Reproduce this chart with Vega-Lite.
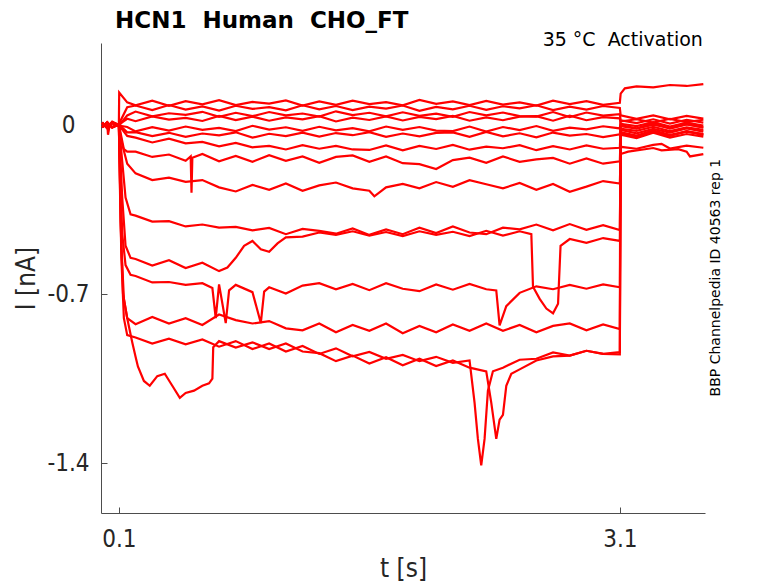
{
  "$schema": "https://vega.github.io/schema/vega-lite/v6.json",
  "width": 604,
  "height": 470,
  "autosize": "none",
  "padding": {"left": 101, "top": 43, "right": 73, "bottom": 70},
  "background": "white",
  "config": {"view": {"stroke": null}, "font": "DejaVu Sans"},
  "title": {
    "text": "HCN1\u00a0\u00a0Human\u00a0\u00a0CHO_FT",
    "frame": "group", "anchor": "start", "dx": 14, "offset": -20, "baseline": "alphabetic",
    "font": "DejaVu Sans", "fontSize": 23, "fontWeight": "bold", "color": "#000000"
  },
  "encoding": {
    "x": {
      "field": "t", "type": "quantitative",
      "scale": {"domain": [-0.007, 3.61], "nice": false, "zero": false},
      "axis": {
        "values": [0.1, 3.1], "format": ".1f", "title": "t [s]", "grid": false,
        "tickSize": -6, "labelPadding": 20, "titlePadding": 4,
        "labelFont": "DejaVu Sans Condensed, DejaVu Sans", "labelFontSize": 24,
        "titleFont": "DejaVu Sans Condensed, DejaVu Sans", "titleFontSize": 26, "titleFontWeight": "normal",
        "domainColor": "#4d4d4d", "tickColor": "#4d4d4d", "labelColor": "#262626", "titleColor": "#262626"
      }
    },
    "y": {
      "field": "i", "type": "quantitative",
      "scale": {"domain": [-1.607, 0.34], "nice": false, "zero": false},
      "axis": {
        "values": [0, -0.7, -1.4], "labelExpr": "'' + datum.value", "title": "I [nA]", "grid": false,
        "tickSize": -6, "labelAlign": "center", "labelPadding": 39, "titlePadding": 7,
        "labelFont": "DejaVu Sans Condensed, DejaVu Sans", "labelFontSize": 24,
        "titleFont": "DejaVu Sans Condensed, DejaVu Sans", "titleFontSize": 26, "titleFontWeight": "normal",
        "domainColor": "#4d4d4d", "tickColor": "#4d4d4d", "labelColor": "#262626", "titleColor": "#262626"
      }
    }
  },
  "layer": [
    {
      "data": {"values": [
        {"k":1,"t":0,"i":0.012},{"k":1,"t":0.03,"i":-0.01},{"k":1,"t":0.06,"i":0.014},{"k":1,"t":0.1,"i":0},{"k":1,"t":0.102,"i":0.135},{"k":1,"t":0.15,"i":0.094},
        {"k":1,"t":0.2,"i":0.082},{"k":1,"t":0.3,"i":0.101},{"k":1,"t":0.4,"i":0.08},{"k":1,"t":0.5,"i":0.099},{"k":1,"t":0.6,"i":0.086},{"k":1,"t":0.7,"i":0.103},{"k":1,"t":0.8,"i":0.083},{"k":1,"t":0.9,"i":0.096},{"k":1,"t":1.0,"i":0.089},{"k":1,"t":1.1,"i":0.102},
        {"k":1,"t":1.2,"i":0.081},{"k":1,"t":1.3,"i":0.098},{"k":1,"t":1.4,"i":0.084},{"k":1,"t":1.5,"i":0.101},{"k":1,"t":1.6,"i":0.087},{"k":1,"t":1.7,"i":0.095},{"k":1,"t":1.8,"i":0.082},{"k":1,"t":1.9,"i":0.104},{"k":1,"t":2.0,"i":0.088},{"k":1,"t":2.1,"i":0.098},
        {"k":1,"t":2.2,"i":0.083},{"k":1,"t":2.3,"i":0.1},{"k":1,"t":2.4,"i":0.085},{"k":1,"t":2.5,"i":0.094},{"k":1,"t":2.6,"i":0.081},{"k":1,"t":2.7,"i":0.101},{"k":1,"t":2.8,"i":0.087},{"k":1,"t":2.9,"i":0.099},{"k":1,"t":3.0,"i":0.084},{"k":1,"t":3.1,"i":0.092},
        {"k":1,"t":3.105,"i":0.13},{"k":1,"t":3.13,"i":0.152},{"k":1,"t":3.2,"i":0.16},{"k":1,"t":3.3,"i":0.156},{"k":1,"t":3.4,"i":0.166},{"k":1,"t":3.5,"i":0.162},{"k":1,"t":3.6,"i":0.17},

        {"k":2,"t":0,"i":-0.01},{"k":2,"t":0.03,"i":0.012},{"k":2,"t":0.06,"i":-0.009},{"k":2,"t":0.1,"i":0.004},{"k":2,"t":0.15,"i":0.074},
        {"k":2,"t":0.2,"i":0.081},{"k":2,"t":0.3,"i":0.062},{"k":2,"t":0.4,"i":0.083},{"k":2,"t":0.5,"i":0.064},{"k":2,"t":0.6,"i":0.077},{"k":2,"t":0.7,"i":0.06},{"k":2,"t":0.8,"i":0.08},{"k":2,"t":0.9,"i":0.067},{"k":2,"t":1.0,"i":0.074},{"k":2,"t":1.1,"i":0.061},
        {"k":2,"t":1.2,"i":0.082},{"k":2,"t":1.3,"i":0.065},{"k":2,"t":1.4,"i":0.079},{"k":2,"t":1.5,"i":0.062},{"k":2,"t":1.6,"i":0.076},{"k":2,"t":1.7,"i":0.068},{"k":2,"t":1.8,"i":0.081},{"k":2,"t":1.9,"i":0.059},{"k":2,"t":2.0,"i":0.075},{"k":2,"t":2.1,"i":0.065},
        {"k":2,"t":2.2,"i":0.08},{"k":2,"t":2.3,"i":0.063},{"k":2,"t":2.4,"i":0.078},{"k":2,"t":2.5,"i":0.069},{"k":2,"t":2.6,"i":0.082},{"k":2,"t":2.7,"i":0.062},{"k":2,"t":2.8,"i":0.076},{"k":2,"t":2.9,"i":0.064},{"k":2,"t":3.0,"i":0.079},{"k":2,"t":3.1,"i":0.071},
        {"k":2,"t":3.105,"i":0.04},{"k":2,"t":3.2,"i":0.026},{"k":2,"t":3.3,"i":0.04},{"k":2,"t":3.4,"i":0.024},{"k":2,"t":3.5,"i":0.038},{"k":2,"t":3.6,"i":0.027},

        {"k":3,"t":0,"i":0.008},{"k":3,"t":0.03,"i":-0.014},{"k":3,"t":0.06,"i":0.01},{"k":3,"t":0.1,"i":-0.003},{"k":3,"t":0.15,"i":0.04},
        {"k":3,"t":0.2,"i":0.056},{"k":3,"t":0.3,"i":0.036},{"k":3,"t":0.4,"i":0.049},{"k":3,"t":0.5,"i":0.042},{"k":3,"t":0.6,"i":0.055},{"k":3,"t":0.7,"i":0.034},{"k":3,"t":0.8,"i":0.051},{"k":3,"t":0.9,"i":0.037},{"k":3,"t":1.0,"i":0.054},{"k":3,"t":1.1,"i":0.04},
        {"k":3,"t":1.2,"i":0.048},{"k":3,"t":1.3,"i":0.035},{"k":3,"t":1.4,"i":0.057},{"k":3,"t":1.5,"i":0.041},{"k":3,"t":1.6,"i":0.051},{"k":3,"t":1.7,"i":0.036},{"k":3,"t":1.8,"i":0.053},{"k":3,"t":1.9,"i":0.038},{"k":3,"t":2.0,"i":0.047},{"k":3,"t":2.1,"i":0.034},
        {"k":3,"t":2.2,"i":0.054},{"k":3,"t":2.3,"i":0.04},{"k":3,"t":2.4,"i":0.052},{"k":3,"t":2.5,"i":0.037},{"k":3,"t":2.6,"i":0.035},{"k":3,"t":2.7,"i":0.054},{"k":3,"t":2.8,"i":0.033},{"k":3,"t":2.9,"i":0.052},{"k":3,"t":3.0,"i":0.039},{"k":3,"t":3.1,"i":0.045},
        {"k":3,"t":3.105,"i":0.02},{"k":3,"t":3.2,"i":0.008},{"k":3,"t":3.3,"i":0.024},{"k":3,"t":3.4,"i":0.006},{"k":3,"t":3.5,"i":0.022},{"k":3,"t":3.6,"i":0.01},

        {"k":4,"t":0,"i":-0.008},{"k":4,"t":0.03,"i":0.009},{"k":4,"t":0.035,"i":-0.04},{"k":4,"t":0.045,"i":0},{"k":4,"t":0.06,"i":0.01},{"k":4,"t":0.1,"i":0.002},{"k":4,"t":0.15,"i":0.026},
        {"k":4,"t":0.2,"i":0.016},{"k":4,"t":0.3,"i":0.036},{"k":4,"t":0.4,"i":0.023},{"k":4,"t":0.5,"i":0.03},{"k":4,"t":0.6,"i":0.017},{"k":4,"t":0.7,"i":0.038},{"k":4,"t":0.8,"i":0.021},{"k":4,"t":0.9,"i":0.035},{"k":4,"t":1.0,"i":0.018},{"k":4,"t":1.1,"i":0.032},
        {"k":4,"t":1.2,"i":0.024},{"k":4,"t":1.3,"i":0.037},{"k":4,"t":1.4,"i":0.015},{"k":4,"t":1.5,"i":0.031},{"k":4,"t":1.6,"i":0.021},{"k":4,"t":1.7,"i":0.036},{"k":4,"t":1.8,"i":0.019},{"k":4,"t":1.9,"i":0.034},{"k":4,"t":2.0,"i":0.025},{"k":4,"t":2.1,"i":0.038},
        {"k":4,"t":2.2,"i":0.018},{"k":4,"t":2.3,"i":0.032},{"k":4,"t":2.4,"i":0.02},{"k":4,"t":2.5,"i":0.035},{"k":4,"t":2.6,"i":0.037},{"k":4,"t":2.7,"i":0.018},{"k":4,"t":2.8,"i":0.039},{"k":4,"t":2.9,"i":0.02},{"k":4,"t":3.0,"i":0.033},{"k":4,"t":3.1,"i":0.028},
        {"k":4,"t":3.105,"i":0.005},{"k":4,"t":3.2,"i":-0.004},{"k":4,"t":3.3,"i":0.012},{"k":4,"t":3.4,"i":-0.006},{"k":4,"t":3.5,"i":0.01},{"k":4,"t":3.6,"i":-0.002},

        {"k":5,"t":0,"i":0.01},{"k":5,"t":0.03,"i":-0.012},{"k":5,"t":0.06,"i":0.011},{"k":5,"t":0.1,"i":-0.002},{"k":5,"t":0.15,"i":-0.008},
        {"k":5,"t":0.2,"i":-0.026},{"k":5,"t":0.3,"i":-0.009},{"k":5,"t":0.4,"i":-0.023},{"k":5,"t":0.5,"i":-0.006},{"k":5,"t":0.6,"i":-0.02},{"k":5,"t":0.7,"i":-0.012},{"k":5,"t":0.8,"i":-0.025},{"k":5,"t":0.9,"i":-0.003},{"k":5,"t":1.0,"i":-0.019},{"k":5,"t":1.1,"i":-0.009},
        {"k":5,"t":1.2,"i":-0.024},{"k":5,"t":1.3,"i":-0.007},{"k":5,"t":1.4,"i":-0.022},{"k":5,"t":1.5,"i":-0.013},{"k":5,"t":1.6,"i":-0.026},{"k":5,"t":1.7,"i":-0.006},{"k":5,"t":1.8,"i":-0.02},{"k":5,"t":1.9,"i":-0.008},{"k":5,"t":2.0,"i":-0.023},{"k":5,"t":2.1,"i":-0.025},
        {"k":5,"t":2.2,"i":-0.006},{"k":5,"t":2.3,"i":-0.027},{"k":5,"t":2.4,"i":-0.008},{"k":5,"t":2.5,"i":-0.021},{"k":5,"t":2.6,"i":-0.004},{"k":5,"t":2.7,"i":-0.024},{"k":5,"t":2.8,"i":-0.011},{"k":5,"t":2.9,"i":-0.018},{"k":5,"t":3.0,"i":-0.005},{"k":5,"t":3.1,"i":-0.014},
        {"k":5,"t":3.105,"i":0.015},{"k":5,"t":3.2,"i":0.024},{"k":5,"t":3.3,"i":0.01},{"k":5,"t":3.4,"i":0.026},{"k":5,"t":3.5,"i":0.012},{"k":5,"t":3.6,"i":0.022},

        {"k":6,"t":0,"i":-0.009},{"k":6,"t":0.03,"i":0.011},{"k":6,"t":0.06,"i":-0.01},{"k":6,"t":0.1,"i":0.003},{"k":6,"t":0.15,"i":-0.03},
        {"k":6,"t":0.2,"i":-0.029},{"k":6,"t":0.3,"i":-0.046},{"k":6,"t":0.4,"i":-0.032},{"k":6,"t":0.5,"i":-0.049},{"k":6,"t":0.6,"i":-0.035},{"k":6,"t":0.7,"i":-0.043},{"k":6,"t":0.8,"i":-0.03},{"k":6,"t":0.9,"i":-0.052},{"k":6,"t":1.0,"i":-0.036},{"k":6,"t":1.1,"i":-0.046},
        {"k":6,"t":1.2,"i":-0.031},{"k":6,"t":1.3,"i":-0.048},{"k":6,"t":1.4,"i":-0.033},{"k":6,"t":1.5,"i":-0.042},{"k":6,"t":1.6,"i":-0.029},{"k":6,"t":1.7,"i":-0.049},{"k":6,"t":1.8,"i":-0.035},{"k":6,"t":1.9,"i":-0.047},{"k":6,"t":2.0,"i":-0.032},{"k":6,"t":2.1,"i":-0.03},
        {"k":6,"t":2.2,"i":-0.049},{"k":6,"t":2.3,"i":-0.028},{"k":6,"t":2.4,"i":-0.047},{"k":6,"t":2.5,"i":-0.034},{"k":6,"t":2.6,"i":-0.051},{"k":6,"t":2.7,"i":-0.031},{"k":6,"t":2.8,"i":-0.044},{"k":6,"t":2.9,"i":-0.037},{"k":6,"t":3.0,"i":-0.05},{"k":6,"t":3.1,"i":-0.038},
        {"k":6,"t":3.105,"i":-0.005},{"k":6,"t":3.2,"i":-0.015},{"k":6,"t":3.3,"i":0.002},{"k":6,"t":3.4,"i":-0.013},{"k":6,"t":3.5,"i":0.004},{"k":6,"t":3.6,"i":-0.01},

        {"k":7,"t":0,"i":0.006},{"k":7,"t":0.03,"i":-0.011},{"k":7,"t":0.06,"i":0.009},{"k":7,"t":0.1,"i":0},{"k":7,"t":0.15,"i":-0.045},
        {"k":7,"t":0.2,"i":-0.052},{"k":7,"t":0.3,"i":-0.072},{"k":7,"t":0.4,"i":-0.056},{"k":7,"t":0.5,"i":-0.076},{"k":7,"t":0.6,"i":-0.07},{"k":7,"t":0.7,"i":-0.088},{"k":7,"t":0.8,"i":-0.074},{"k":7,"t":0.9,"i":-0.092},{"k":7,"t":1.0,"i":-0.086},{"k":7,"t":1.1,"i":-0.101},
        {"k":7,"t":1.2,"i":-0.083},{"k":7,"t":1.3,"i":-0.098},{"k":7,"t":1.4,"i":-0.086},{"k":7,"t":1.5,"i":-0.101},{"k":7,"t":1.6,"i":-0.103},{"k":7,"t":1.7,"i":-0.084},{"k":7,"t":1.8,"i":-0.105},{"k":7,"t":1.9,"i":-0.086},{"k":7,"t":2.0,"i":-0.099},{"k":7,"t":2.1,"i":-0.082},
        {"k":7,"t":2.2,"i":-0.102},{"k":7,"t":2.3,"i":-0.089},{"k":7,"t":2.4,"i":-0.096},{"k":7,"t":2.5,"i":-0.083},{"k":7,"t":2.6,"i":-0.104},{"k":7,"t":2.7,"i":-0.087},{"k":7,"t":2.8,"i":-0.101},{"k":7,"t":2.9,"i":-0.084},{"k":7,"t":3.0,"i":-0.098},{"k":7,"t":3.1,"i":-0.094},
        {"k":7,"t":3.105,"i":-0.02},{"k":7,"t":3.2,"i":-0.034},{"k":7,"t":3.3,"i":-0.016},{"k":7,"t":3.4,"i":-0.031},{"k":7,"t":3.5,"i":-0.014},{"k":7,"t":3.6,"i":-0.027},

        {"k":8,"t":0,"i":-0.01},{"k":8,"t":0.03,"i":0.008},{"k":8,"t":0.06,"i":-0.008},{"k":8,"t":0.1,"i":0.002},{"k":8,"t":0.13,"i":-0.1},{"k":8,"t":0.15,"i":-0.11},
        {"k":8,"t":0.2,"i":-0.11},{"k":8,"t":0.3,"i":-0.132},{"k":8,"t":0.4,"i":-0.122},{"k":8,"t":0.5,"i":-0.148},{"k":8,"t":0.53,"i":-0.13},{"k":8,"t":0.535,"i":-0.28},{"k":8,"t":0.54,"i":-0.135},{"k":8,"t":0.6,"i":-0.12},{"k":8,"t":0.7,"i":-0.15},{"k":8,"t":0.8,"i":-0.128},{"k":8,"t":0.9,"i":-0.152},{"k":8,"t":1.0,"i":-0.125},{"k":8,"t":1.1,"i":-0.148},
        {"k":8,"t":1.2,"i":-0.13},{"k":8,"t":1.3,"i":-0.156},{"k":8,"t":1.4,"i":-0.132},{"k":8,"t":1.5,"i":-0.126},{"k":8,"t":1.6,"i":-0.152},{"k":8,"t":1.7,"i":-0.13},{"k":8,"t":1.8,"i":-0.158},{"k":8,"t":1.9,"i":-0.162},{"k":8,"t":2.0,"i":-0.182},{"k":8,"t":2.1,"i":-0.145},
        {"k":8,"t":2.2,"i":-0.135},{"k":8,"t":2.3,"i":-0.156},{"k":8,"t":2.4,"i":-0.13},{"k":8,"t":2.5,"i":-0.152},{"k":8,"t":2.6,"i":-0.142},{"k":8,"t":2.7,"i":-0.136},{"k":8,"t":2.8,"i":-0.16},{"k":8,"t":2.9,"i":-0.138},{"k":8,"t":3.0,"i":-0.16},{"k":8,"t":3.1,"i":-0.15},
        {"k":8,"t":3.105,"i":-0.035},{"k":8,"t":3.2,"i":-0.048},{"k":8,"t":3.3,"i":-0.028},{"k":8,"t":3.4,"i":-0.045},{"k":8,"t":3.5,"i":-0.026},{"k":8,"t":3.6,"i":-0.042},

        {"k":9,"t":0,"i":0.009},{"k":9,"t":0.03,"i":-0.01},{"k":9,"t":0.06,"i":0.008},{"k":9,"t":0.1,"i":-0.002},{"k":9,"t":0.12,"i":-0.08},{"k":9,"t":0.15,"i":-0.16},
        {"k":9,"t":0.2,"i":-0.2},{"k":9,"t":0.3,"i":-0.228},{"k":9,"t":0.4,"i":-0.218},{"k":9,"t":0.5,"i":-0.235},{"k":9,"t":0.6,"i":-0.228},{"k":9,"t":0.7,"i":-0.258},{"k":9,"t":0.8,"i":-0.275},{"k":9,"t":0.9,"i":-0.248},{"k":9,"t":1.0,"i":-0.268},{"k":9,"t":1.1,"i":-0.242},
        {"k":9,"t":1.2,"i":-0.272},{"k":9,"t":1.3,"i":-0.25},{"k":9,"t":1.4,"i":-0.238},{"k":9,"t":1.5,"i":-0.262},{"k":9,"t":1.6,"i":-0.272},{"k":9,"t":1.63,"i":-0.295},{"k":9,"t":1.7,"i":-0.258},{"k":9,"t":1.8,"i":-0.244},{"k":9,"t":1.9,"i":-0.262},{"k":9,"t":2.0,"i":-0.236},{"k":9,"t":2.1,"i":-0.256},
        {"k":9,"t":2.2,"i":-0.228},{"k":9,"t":2.3,"i":-0.245},{"k":9,"t":2.4,"i":-0.262},{"k":9,"t":2.5,"i":-0.24},{"k":9,"t":2.6,"i":-0.268},{"k":9,"t":2.7,"i":-0.244},{"k":9,"t":2.8,"i":-0.276},{"k":9,"t":2.9,"i":-0.255},{"k":9,"t":3.0,"i":-0.232},{"k":9,"t":3.1,"i":-0.242},
        {"k":9,"t":3.105,"i":-0.12},{"k":9,"t":3.15,"i":-0.11},{"k":9,"t":3.25,"i":-0.1},{"k":9,"t":3.3,"i":-0.095},{"k":9,"t":3.35,"i":-0.105},{"k":9,"t":3.45,"i":-0.1},{"k":9,"t":3.5,"i":-0.11},{"k":9,"t":3.52,"i":-0.13},{"k":9,"t":3.6,"i":-0.12},

        {"k":10,"t":0,"i":-0.008},{"k":10,"t":0.03,"i":0.01},{"k":10,"t":0.06,"i":-0.009},{"k":10,"t":0.1,"i":0.003},{"k":10,"t":0.12,"i":-0.15},{"k":10,"t":0.14,"i":-0.3},{"k":10,"t":0.17,"i":-0.37},
        {"k":10,"t":0.2,"i":-0.375},{"k":10,"t":0.3,"i":-0.4},{"k":10,"t":0.4,"i":-0.398},{"k":10,"t":0.5,"i":-0.42},{"k":10,"t":0.6,"i":-0.412},{"k":10,"t":0.7,"i":-0.425},{"k":10,"t":0.8,"i":-0.422},{"k":10,"t":0.9,"i":-0.436},{"k":10,"t":1.0,"i":-0.426},{"k":10,"t":1.1,"i":-0.452},
        {"k":10,"t":1.2,"i":-0.43},{"k":10,"t":1.3,"i":-0.438},{"k":10,"t":1.4,"i":-0.45},{"k":10,"t":1.5,"i":-0.428},{"k":10,"t":1.6,"i":-0.455},{"k":10,"t":1.7,"i":-0.432},{"k":10,"t":1.8,"i":-0.452},{"k":10,"t":1.9,"i":-0.425},{"k":10,"t":2.0,"i":-0.447},{"k":10,"t":2.1,"i":-0.42},
        {"k":10,"t":2.2,"i":-0.445},{"k":10,"t":2.3,"i":-0.452},{"k":10,"t":2.4,"i":-0.425},{"k":10,"t":2.5,"i":-0.432},{"k":10,"t":2.6,"i":-0.412},{"k":10,"t":2.7,"i":-0.436},{"k":10,"t":2.8,"i":-0.41},{"k":10,"t":2.9,"i":-0.434},{"k":10,"t":3.0,"i":-0.415},{"k":10,"t":3.1,"i":-0.435},
        {"k":10,"t":3.105,"i":-0.09},{"k":10,"t":3.2,"i":-0.098},{"k":10,"t":3.3,"i":-0.082},{"k":10,"t":3.35,"i":-0.078},{"k":10,"t":3.4,"i":-0.097},{"k":10,"t":3.5,"i":-0.085},{"k":10,"t":3.6,"i":-0.094},

        {"k":11,"t":0,"i":0.01},{"k":11,"t":0.03,"i":-0.009},{"k":11,"t":0.06,"i":0.01},{"k":11,"t":0.1,"i":0},{"k":11,"t":0.12,"i":-0.3},{"k":11,"t":0.14,"i":-0.5},{"k":11,"t":0.17,"i":-0.55},
        {"k":11,"t":0.2,"i":-0.555},{"k":11,"t":0.3,"i":-0.582},{"k":11,"t":0.4,"i":-0.56},{"k":11,"t":0.5,"i":-0.592},{"k":11,"t":0.6,"i":-0.57},{"k":11,"t":0.7,"i":-0.605},{"k":11,"t":0.75,"i":-0.59},{"k":11,"t":0.8,"i":-0.55},{"k":11,"t":0.85,"i":-0.5},{"k":11,"t":0.9,"i":-0.48},{"k":11,"t":0.95,"i":-0.515},{"k":11,"t":1.0,"i":-0.525},{"k":11,"t":1.05,"i":-0.49},{"k":11,"t":1.1,"i":-0.465},
        {"k":11,"t":1.2,"i":-0.462},{"k":11,"t":1.3,"i":-0.445},{"k":11,"t":1.4,"i":-0.455},{"k":11,"t":1.5,"i":-0.44},{"k":11,"t":1.6,"i":-0.458},{"k":11,"t":1.7,"i":-0.443},{"k":11,"t":1.8,"i":-0.46},{"k":11,"t":1.9,"i":-0.44},{"k":11,"t":2.0,"i":-0.455},{"k":11,"t":2.1,"i":-0.442},
        {"k":11,"t":2.2,"i":-0.46},{"k":11,"t":2.3,"i":-0.438},{"k":11,"t":2.4,"i":-0.458},{"k":11,"t":2.5,"i":-0.44},{"k":11,"t":2.57,"i":-0.452},{"k":11,"t":2.58,"i":-0.67},{"k":11,"t":2.62,"i":-0.72},{"k":11,"t":2.66,"i":-0.76},{"k":11,"t":2.7,"i":-0.78},{"k":11,"t":2.73,"i":-0.74},{"k":11,"t":2.745,"i":-0.5},{"k":11,"t":2.8,"i":-0.472},{"k":11,"t":2.9,"i":-0.488},{"k":11,"t":3.0,"i":-0.468},{"k":11,"t":3.1,"i":-0.48},
        {"k":11,"t":3.105,"i":-0.03},{"k":11,"t":3.2,"i":-0.043},{"k":11,"t":3.3,"i":-0.022},{"k":11,"t":3.4,"i":-0.04},{"k":11,"t":3.5,"i":-0.027},{"k":11,"t":3.6,"i":-0.037},

        {"k":12,"t":0,"i":-0.009},{"k":12,"t":0.03,"i":0.008},{"k":12,"t":0.06,"i":-0.011},{"k":12,"t":0.1,"i":0.002},{"k":12,"t":0.12,"i":-0.45},{"k":12,"t":0.14,"i":-0.58},{"k":12,"t":0.17,"i":-0.62},
        {"k":12,"t":0.2,"i":-0.625},{"k":12,"t":0.3,"i":-0.652},{"k":12,"t":0.4,"i":-0.65},{"k":12,"t":0.5,"i":-0.662},{"k":12,"t":0.6,"i":-0.655},{"k":12,"t":0.66,"i":-0.675},{"k":12,"t":0.68,"i":-0.8},{"k":12,"t":0.7,"i":-0.66},{"k":12,"t":0.74,"i":-0.82},{"k":12,"t":0.76,"i":-0.685},{"k":12,"t":0.8,"i":-0.662},{"k":12,"t":0.9,"i":-0.692},{"k":12,"t":0.95,"i":-0.82},{"k":12,"t":0.97,"i":-0.69},{"k":12,"t":1.0,"i":-0.672},{"k":12,"t":1.1,"i":-0.698},
        {"k":12,"t":1.2,"i":-0.665},{"k":12,"t":1.3,"i":-0.655},{"k":12,"t":1.4,"i":-0.68},{"k":12,"t":1.5,"i":-0.658},{"k":12,"t":1.6,"i":-0.684},{"k":12,"t":1.7,"i":-0.655},{"k":12,"t":1.8,"i":-0.678},{"k":12,"t":1.9,"i":-0.688},{"k":12,"t":2.0,"i":-0.66},{"k":12,"t":2.1,"i":-0.682},
        {"k":12,"t":2.2,"i":-0.658},{"k":12,"t":2.3,"i":-0.68},{"k":12,"t":2.36,"i":-0.685},{"k":12,"t":2.38,"i":-0.83},{"k":12,"t":2.42,"i":-0.75},{"k":12,"t":2.5,"i":-0.695},{"k":12,"t":2.6,"i":-0.668},{"k":12,"t":2.7,"i":-0.68},{"k":12,"t":2.8,"i":-0.662},{"k":12,"t":2.9,"i":-0.678},{"k":12,"t":3.0,"i":-0.66},{"k":12,"t":3.1,"i":-0.672},
        {"k":12,"t":3.105,"i":0},{"k":12,"t":3.2,"i":-0.013},{"k":12,"t":3.3,"i":0.008},{"k":12,"t":3.4,"i":-0.015},{"k":12,"t":3.5,"i":0.003},{"k":12,"t":3.6,"i":-0.01},

        {"k":13,"t":0,"i":0.007},{"k":13,"t":0.03,"i":-0.01},{"k":13,"t":0.06,"i":0.012},{"k":13,"t":0.1,"i":-0.002},{"k":13,"t":0.115,"i":-0.5},{"k":13,"t":0.13,"i":-0.72},{"k":13,"t":0.15,"i":-0.8},
        {"k":13,"t":0.2,"i":-0.825},{"k":13,"t":0.3,"i":-0.795},{"k":13,"t":0.4,"i":-0.822},{"k":13,"t":0.5,"i":-0.8},{"k":13,"t":0.6,"i":-0.828},{"k":13,"t":0.7,"i":-0.785},{"k":13,"t":0.8,"i":-0.808},{"k":13,"t":0.9,"i":-0.822},{"k":13,"t":1.0,"i":-0.812},{"k":13,"t":1.1,"i":-0.842},
        {"k":13,"t":1.2,"i":-0.85},{"k":13,"t":1.3,"i":-0.822},{"k":13,"t":1.4,"i":-0.858},{"k":13,"t":1.5,"i":-0.828},{"k":13,"t":1.6,"i":-0.852},{"k":13,"t":1.7,"i":-0.822},{"k":13,"t":1.8,"i":-0.862},{"k":13,"t":1.9,"i":-0.832},{"k":13,"t":2.0,"i":-0.858},{"k":13,"t":2.1,"i":-0.826},
        {"k":13,"t":2.2,"i":-0.852},{"k":13,"t":2.3,"i":-0.822},{"k":13,"t":2.4,"i":-0.852},{"k":13,"t":2.5,"i":-0.828},{"k":13,"t":2.6,"i":-0.858},{"k":13,"t":2.7,"i":-0.832},{"k":13,"t":2.8,"i":-0.822},{"k":13,"t":2.9,"i":-0.85},{"k":13,"t":3.0,"i":-0.826},{"k":13,"t":3.1,"i":-0.845},
        {"k":13,"t":3.105,"i":-0.015},{"k":13,"t":3.2,"i":-0.024},{"k":13,"t":3.3,"i":-0.007},{"k":13,"t":3.4,"i":-0.025},{"k":13,"t":3.5,"i":-0.009},{"k":13,"t":3.6,"i":-0.02},

        {"k":14,"t":0,"i":-0.008},{"k":14,"t":0.03,"i":0.01},{"k":14,"t":0.06,"i":-0.009},{"k":14,"t":0.1,"i":0.001},{"k":14,"t":0.115,"i":-0.55},{"k":14,"t":0.13,"i":-0.8},{"k":14,"t":0.15,"i":-0.87},
        {"k":14,"t":0.2,"i":-0.88},{"k":14,"t":0.3,"i":-0.905},{"k":14,"t":0.4,"i":-0.885},{"k":14,"t":0.5,"i":-0.908},{"k":14,"t":0.6,"i":-0.888},{"k":14,"t":0.7,"i":-0.918},{"k":14,"t":0.8,"i":-0.895},{"k":14,"t":0.9,"i":-0.928},{"k":14,"t":1.0,"i":-0.905},{"k":14,"t":1.1,"i":-0.938},
        {"k":14,"t":1.2,"i":-0.915},{"k":14,"t":1.3,"i":-0.948},{"k":14,"t":1.4,"i":-0.925},{"k":14,"t":1.5,"i":-0.958},{"k":14,"t":1.6,"i":-0.94},{"k":14,"t":1.7,"i":-0.968},{"k":14,"t":1.8,"i":-0.952},{"k":14,"t":1.9,"i":-0.978},{"k":14,"t":2.0,"i":-0.96},{"k":14,"t":2.1,"i":-0.985},
        {"k":14,"t":2.2,"i":-0.975},{"k":14,"t":2.23,"i":-1.15},{"k":14,"t":2.25,"i":-1.3},{"k":14,"t":2.27,"i":-1.41},{"k":14,"t":2.29,"i":-1.3},{"k":14,"t":2.31,"i":-1.1},{"k":14,"t":2.34,"i":-1.02},{"k":14,"t":2.4,"i":-1.005},{"k":14,"t":2.5,"i":-0.972},{"k":14,"t":2.6,"i":-0.968},{"k":14,"t":2.7,"i":-0.942},{"k":14,"t":2.8,"i":-0.955},{"k":14,"t":2.9,"i":-0.935},{"k":14,"t":3.0,"i":-0.948},{"k":14,"t":3.1,"i":-0.94},
        {"k":14,"t":3.105,"i":-0.04},{"k":14,"t":3.2,"i":-0.054},{"k":14,"t":3.3,"i":-0.032},{"k":14,"t":3.4,"i":-0.052},{"k":14,"t":3.5,"i":-0.037},{"k":14,"t":3.6,"i":-0.048},

        {"k":15,"t":0,"i":0.009},{"k":15,"t":0.03,"i":-0.01},{"k":15,"t":0.06,"i":0.008},{"k":15,"t":0.1,"i":-0.001},{"k":15,"t":0.11,"i":-0.4},{"k":15,"t":0.125,"i":-0.7},{"k":15,"t":0.15,"i":-0.8},{"k":15,"t":0.18,"i":-0.9},
        {"k":15,"t":0.2,"i":-0.96},{"k":15,"t":0.214,"i":-1.0},{"k":15,"t":0.25,"i":-1.06},{"k":15,"t":0.285,"i":-1.08},{"k":15,"t":0.33,"i":-1.04},{"k":15,"t":0.375,"i":-1.03},{"k":15,"t":0.42,"i":-1.08},{"k":15,"t":0.465,"i":-1.13},{"k":15,"t":0.5,"i":-1.11},{"k":15,"t":0.55,"i":-1.1},{"k":15,"t":0.6,"i":-1.08},{"k":15,"t":0.64,"i":-1.07},{"k":15,"t":0.66,"i":-1.05},{"k":15,"t":0.665,"i":-0.92},
        {"k":15,"t":0.7,"i":-0.895},{"k":15,"t":0.8,"i":-0.922},{"k":15,"t":0.9,"i":-0.9},{"k":15,"t":1.0,"i":-0.928},{"k":15,"t":1.1,"i":-0.905},{"k":15,"t":1.2,"i":-0.938},{"k":15,"t":1.3,"i":-0.945},{"k":15,"t":1.4,"i":-0.978},{"k":15,"t":1.5,"i":-0.955},{"k":15,"t":1.6,"i":-0.988},{"k":15,"t":1.7,"i":-0.962},{"k":15,"t":1.8,"i":-0.995},{"k":15,"t":1.9,"i":-0.968},{"k":15,"t":2.0,"i":-0.998},{"k":15,"t":2.1,"i":-0.975},
        {"k":15,"t":2.2,"i":-1.005},{"k":15,"t":2.3,"i":-1.02},{"k":15,"t":2.33,"i":-1.15},{"k":15,"t":2.36,"i":-1.3},{"k":15,"t":2.38,"i":-1.22},{"k":15,"t":2.4,"i":-1.2},{"k":15,"t":2.42,"i":-1.08},{"k":15,"t":2.45,"i":-1.03},{"k":15,"t":2.5,"i":-1.012},{"k":15,"t":2.6,"i":-0.975},{"k":15,"t":2.7,"i":-0.958},{"k":15,"t":2.8,"i":-0.955},{"k":15,"t":2.9,"i":-0.935},{"k":15,"t":3.0,"i":-0.948},{"k":15,"t":3.1,"i":-0.95},
        {"k":15,"t":3.105,"i":-0.03},{"k":15,"t":3.2,"i":-0.048},{"k":15,"t":3.3,"i":-0.027},{"k":15,"t":3.4,"i":-0.044},{"k":15,"t":3.5,"i":-0.025},{"k":15,"t":3.6,"i":-0.038}
      ]},
      "mark": {"type": "line", "color": "#ff0000", "strokeWidth": 2.2, "clip": true},
      "encoding": {"detail": {"field": "k", "type": "nominal"}}
    },
    {
      "data": {"values": [{"t": 3.597, "i": 0.352, "s": "35 °C\u00a0\u00a0Activation"}]},
      "mark": {"type": "text", "align": "right", "baseline": "middle", "font": "DejaVu Sans", "fontSize": 19, "color": "#000000"},
      "encoding": {"text": {"field": "s", "type": "nominal"}}
    },
    {
      "data": {"values": [{"t": 3.675, "i": -0.632, "s": "BBP Channelpedia ID 40563 rep 1"}]},
      "mark": {"type": "text", "align": "center", "baseline": "middle", "angle": 270, "font": "DejaVu Sans", "fontSize": 14, "color": "#000000"},
      "encoding": {"text": {"field": "s", "type": "nominal"}}
    }
  ]
}
